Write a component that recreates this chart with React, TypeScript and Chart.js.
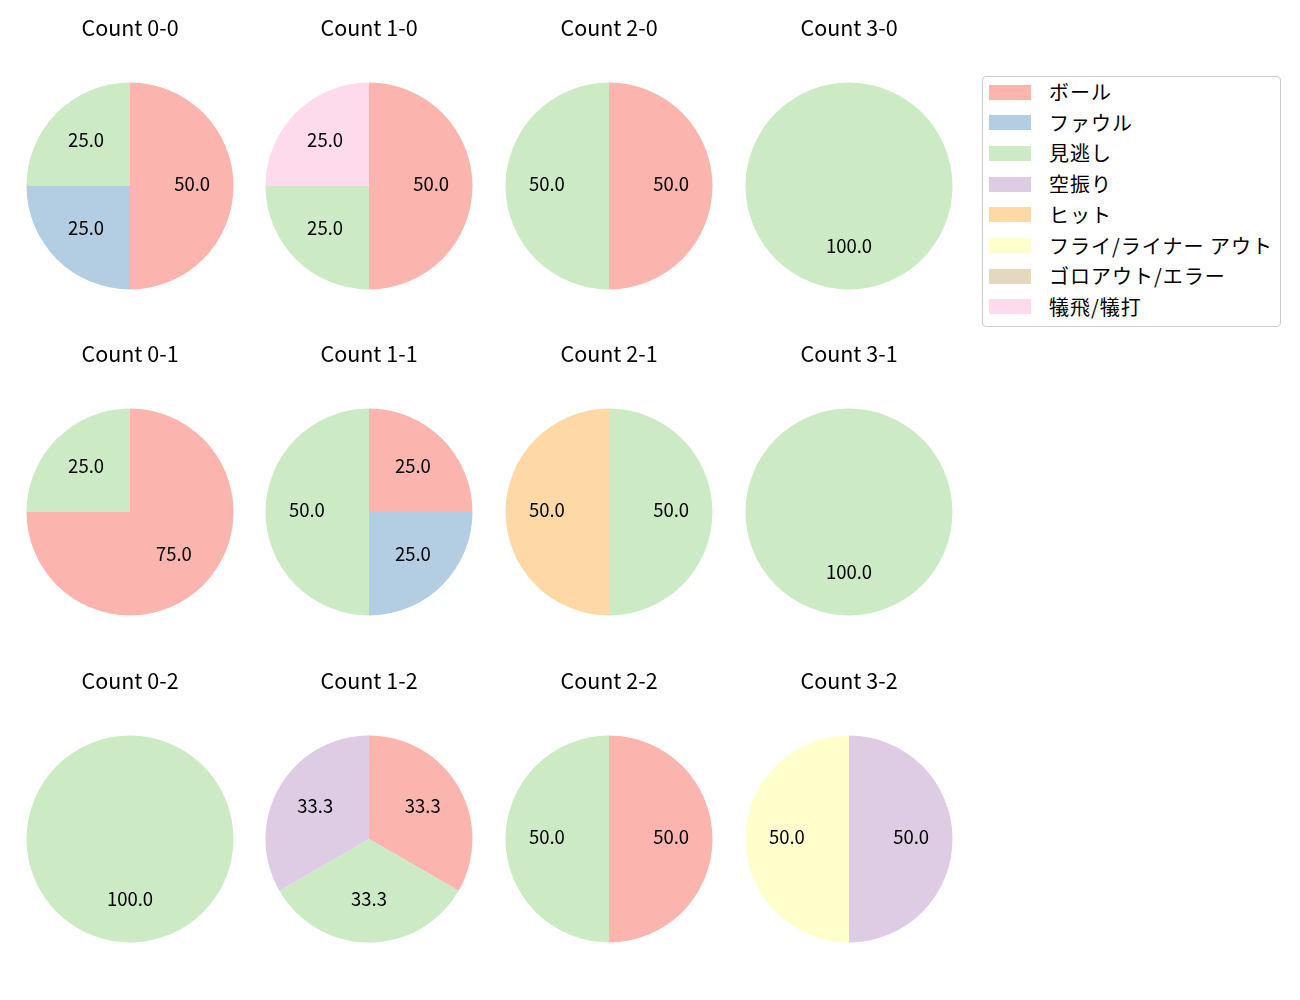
import React, { useEffect, useRef } from "react";
import { Chart, registerables } from "chart.js";

Chart.register(...registerables);

const CATEGORIES = [
  "ボール",
  "ファウル",
  "見逃し",
  "空振り",
  "ヒット",
  "フライ/ライナー アウト",
  "ゴロアウト/エラー",
  "犠飛/犠打",
];
const COLORS = ["#fbb4ae", "#b3cde3", "#ccebc5", "#decbe4", "#fed9a6", "#ffffcc", "#e5d8bd", "#fddaec"];

const count00 = [50, 25, 25, 0, 0, 0, 0, 0];
const count10 = [50, 0, 25, 0, 0, 0, 0, 25];
const count20 = [50, 0, 50, 0, 0, 0, 0, 0];
const count30 = [0, 0, 100, 0, 0, 0, 0, 0];
const count01 = [75, 0, 25, 0, 0, 0, 0, 0];
const count11 = [25, 25, 50, 0, 0, 0, 0, 0];
const count21 = [0, 0, 50, 0, 50, 0, 0, 0];
const count31 = [0, 0, 100, 0, 0, 0, 0, 0];
const count02 = [0, 0, 100, 0, 0, 0, 0, 0];
const count12 = [1, 0, 1, 1, 0, 0, 0, 0];
const count22 = [50, 0, 50, 0, 0, 0, 0, 0];
const count32 = [0, 0, 0, 50, 0, 50, 0, 0];

const PANEL_TITLES = [
  "Count 0-0", "Count 1-0", "Count 2-0", "Count 3-0",
  "Count 0-1", "Count 1-1", "Count 2-1", "Count 3-1",
  "Count 0-2", "Count 1-2", "Count 2-2", "Count 3-2",
];
const PANEL_VALUES = [
  count00, count10, count20, count30,
  count01, count11, count21, count31,
  count02, count12, count22, count32,
];

const FONT = "'Noto Sans CJK JP', 'Noto Sans', sans-serif";
const COL_X = [129.5, 369.2, 609, 848.7];
const ROW_Y = [185.5, 512.2, 839];
const R = 103.5;
const CW = 240;
const CH = 290;
const TITLE_SIZE = 21.5;
const LABEL_SIZE = 18.5;
const LEGEND_SIZE = 20;
const TITLE_Y = 11.5;

const pctLabels = {
  id: "pctLabels",
  afterDatasetsDraw(chart: any) {
    const ctx = chart.ctx;
    const meta = chart.getDatasetMeta(0);
    const data = chart.data.datasets[0].data as number[];
    const total = data.reduce((a, b) => a + b, 0);
    ctx.save();
    ctx.fillStyle = "#000";
    ctx.font = `${LABEL_SIZE}px ${FONT}`;
    ctx.textAlign = "center";
    ctx.textBaseline = "middle";
    meta.data.forEach((arc: any, i: number) => {
      const v = data[i];
      if (!v) return;
      const p = arc.getProps(["x", "y", "startAngle", "endAngle", "outerRadius"], true);
      const mid = (p.startAngle + p.endAngle) / 2;
      const d = p.outerRadius * 0.6;
      ctx.fillText(((v / total) * 100).toFixed(1), p.x + Math.cos(mid) * d, p.y + Math.sin(mid) * d - 2);
    });
    ctx.restore();
  },
};

function Pie({ title, values }: { title: string; values: number[] }) {
  const ref = useRef<HTMLCanvasElement>(null);
  useEffect(() => {
    const chart = new Chart(ref.current!, {
      type: "pie",
      data: {
        labels: CATEGORIES,
        datasets: [{ data: values, backgroundColor: COLORS, borderWidth: 0 }],
      },
      options: {
        responsive: false,
        animation: false,
        events: [],
        layout: { padding: { left: CW / 2 - R, right: CW / 2 - R, top: 0, bottom: CH - 170 - R } },
        plugins: {
          legend: { display: false },
          tooltip: { enabled: false },
          title: {
            display: true,
            text: title,
            color: "#000",
            font: { family: FONT, size: TITLE_SIZE, weight: "normal", lineHeight: 1.2 },
            padding: { top: TITLE_Y - 0.6 * TITLE_SIZE, bottom: 170 - R - (TITLE_Y - 0.6 * TITLE_SIZE) - 1.2 * TITLE_SIZE },
          },
        },
      },
      plugins: [pctLabels],
    });
    return () => chart.destroy();
  }, [title, values]);
  return <canvas ref={ref} width={CW} height={CH} style={{ width: CW, height: CH, display: "block" }} />;
}

export default function App() {
  return (
    <div style={{ position: "absolute", left: 0, top: 0, width: 1300, height: 1000, background: "#fff", fontFamily: FONT }}>
      {PANEL_TITLES.map((t, i) => {
        const cx = COL_X[i % 4];
        const cy = ROW_Y[Math.floor(i / 4)];
        return (
          <div key={t} style={{ position: "absolute", left: cx - CW / 2, top: cy - 170 }}>
            <Pie title={t} values={PANEL_VALUES[i]} />
          </div>
        );
      })}
      <div
        style={{
          position: "absolute",
          left: 982,
          top: 76,
          width: 299,
          height: 251,
          boxSizing: "border-box",
          border: "1px solid #cccccc",
          borderRadius: 4,
          background: "#fff",
        }}
      >
        {CATEGORIES.map((c, i) => (
          <div key={c} style={{ position: "absolute", left: 6, top: 7.5 + i * 30.7, height: 15, width: 290 }}>
            <div style={{ position: "absolute", left: 0, top: 0, width: 42, height: 15, background: COLORS[i] }} />
            <div
              style={{
                position: "absolute",
                left: 60,
                top: 7.5,
                transform: "translateY(-50%)",
                fontSize: LEGEND_SIZE,
                lineHeight: "24px",
                letterSpacing: "1px",
                whiteSpace: "nowrap",
                color: "#000",
              }}
            >
              {c}
            </div>
          </div>
        ))}
      </div>
    </div>
  );
}
